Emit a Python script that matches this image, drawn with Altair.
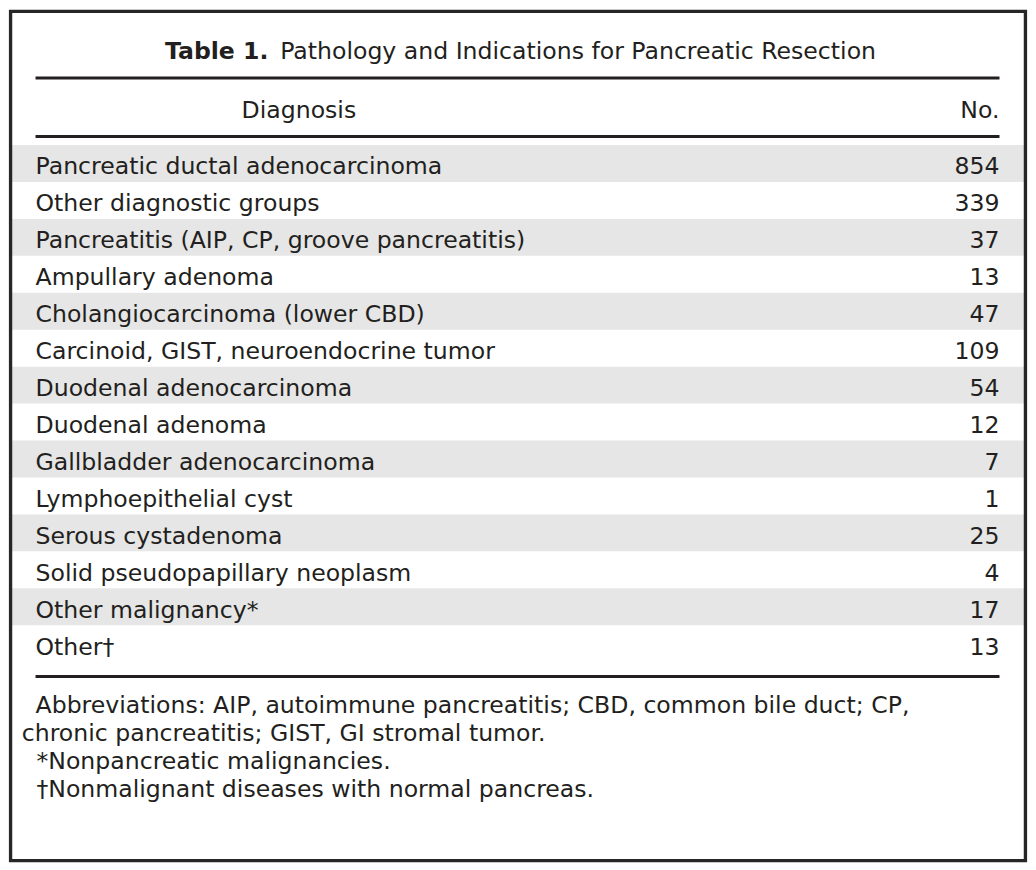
import altair as alt
import pandas as pd

# ---------------- data ----------------
title_bold = "Table 1."
title_text = "Pathology and Indications for Pancreatic Resection"
header_left = "Diagnosis"
header_right = "No."
diagnoses = [
    "Pancreatic ductal adenocarcinoma",
    "Other diagnostic groups",
    "Pancreatitis (AIP, CP, groove pancreatitis)",
    "Ampullary adenoma",
    "Cholangiocarcinoma (lower CBD)",
    "Carcinoid, GIST, neuroendocrine tumor",
    "Duodenal adenocarcinoma",
    "Duodenal adenoma",
    "Gallbladder adenocarcinoma",
    "Lymphoepithelial cyst",
    "Serous cystadenoma",
    "Solid pseudopapillary neoplasm",
    "Other malignancy*",
    "Other\u2020",
]
counts = [854, 339, 37, 13, 47, 109, 54, 12, 7, 1, 25, 4, 17, 13]
footnotes = [
    "Abbreviations: AIP, autoimmune pancreatitis; CBD, common bile duct; CP,",
    "chronic pancreatitis; GIST, GI stromal tumor.",
    "*Nonpancreatic malignancies.",
    "\u2020Nonmalignant diseases with normal pancreas.",
]

# ---------------- layout (reference pixel units) ----------------
REF_W, REF_H = 1036, 870
W, H = 1020, 854
S = W / REF_W
FONT = "DejaVu Sans"
FS = 24 * S
INK = "#231f20"
STRIPE = "#e5e6e5"
ROW_TOP = 138.0
ROW_H = 37.7
LEFT = 27
RIGHT = 1008

xs = alt.Scale(domain=[0, REF_W], nice=False, zero=False)
ys = alt.Scale(domain=[0, REF_H], nice=False, zero=False, reverse=True)


def X(f):
    return alt.X(f, type="quantitative", scale=xs, axis=None)


def Y(f):
    return alt.Y(f, type="quantitative", scale=ys, axis=None)


def text_layer(df, align, weight="normal"):
    return alt.Chart(df).mark_text(
        align=align, baseline="alphabetic", font=FONT, fontSize=FS,
        fontWeight=weight, color=INK
    ).encode(x=X("x"), y=Y("y"), text="t")


rows = pd.DataFrame({"diagnosis": diagnoses, "n": counts})
rows["i"] = range(len(rows))
rows["top"] = ROW_TOP + rows["i"] * ROW_H
rows["bot"] = rows["top"] + ROW_H
rows["base"] = rows["top"] + 30
rows["xl"] = LEFT
rows["xr"] = RIGHT
rows["sx0"] = 3
rows["sx1"] = 1033
stripes = rows[rows["i"] % 2 == 0]

stripe_layer = alt.Chart(stripes).mark_rect(color=STRIPE).encode(
    x=X("sx0"), x2="sx1", y=Y("top"), y2="bot"
)

diag_layer = alt.Chart(rows).mark_text(
    align="left", baseline="alphabetic", font=FONT, fontSize=FS, color=INK
).encode(x=X("xl"), y=Y("base"), text="diagnosis")

num_layer = alt.Chart(rows).mark_text(
    align="right", baseline="alphabetic", font=FONT, fontSize=FS, color=INK
).encode(x=X("xr"), y=Y("base"), text="n")

rules = pd.DataFrame({"y": [69.5, 129.3, 680.5], "x0": LEFT, "x1": RIGHT})
rule_layer = alt.Chart(rules).mark_rule(color=INK, strokeWidth=3 * S).encode(
    x=X("x0"), x2="x1", y=Y("y")
)

hdr_l = text_layer(pd.DataFrame({"t": [header_left], "x": [295], "y": [110]}), "center")
hdr_r = text_layer(pd.DataFrame({"t": [header_right], "x": [RIGHT], "y": [110]}), "right")

title_b = text_layer(pd.DataFrame({"t": [title_bold], "x": [264], "y": [50]}), "right", "bold")
title_r = text_layer(pd.DataFrame({"t": [title_text], "x": [276], "y": [50]}), "left")

fn = pd.DataFrame({"t": footnotes})
fn["x"] = [27, 13, 28, 28]
fn["y"] = [718, 746, 775, 803]
fn_layer = text_layer(fn, "left")

border = pd.DataFrame({"x0": [1.6], "x1": [1034.4], "y0": [1.6], "y1": [868.4]})
border_layer = alt.Chart(border).mark_rect(
    fill=None, filled=False, stroke="#262626", strokeWidth=3.4 * S
).encode(x=X("x0"), x2="x1", y=Y("y0"), y2="y1")

chart = alt.layer(
    stripe_layer, rule_layer, title_b, title_r, hdr_l, hdr_r,
    diag_layer, num_layer, fn_layer, border_layer
).properties(width=W, height=H, padding=0, background="white").configure_view(
    strokeWidth=0
)

chart.save("out.html", embed_options={"renderer": "svg", "actions": False})
